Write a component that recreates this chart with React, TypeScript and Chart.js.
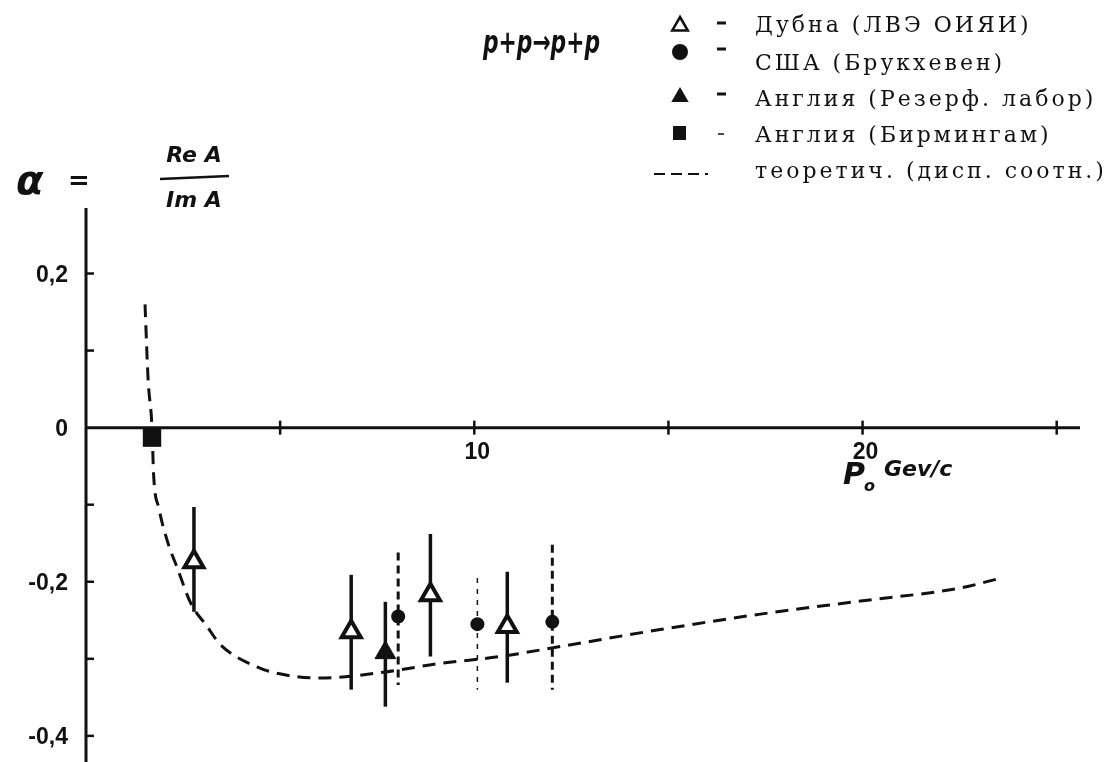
import { useEffect, useRef } from "react";
import { Chart, registerables } from "chart.js";
import { drawPoint } from "chart.js/helpers";

Chart.register(...registerables);

// Dubna (LHE JINR) — open triangles
const dubnaP = [2.78, 6.83, 8.87, 10.85];
const dubnaAlpha = [-0.174, -0.265, -0.217, -0.258];
const dubnaErrTop = [-0.103, -0.191, -0.138, -0.187];
const dubnaErrBottom = [-0.239, -0.340, -0.297, -0.331];

// USA (Brookhaven) — filled circles
const bnlP = [8.04, 10.08, 12.01];
const bnlAlpha = [-0.245, -0.255, -0.252];
const bnlErrTop = [-0.162, -0.195, -0.152];
const bnlErrBottom = [-0.334, -0.340, -0.340];

// England (Rutherford lab) — filled triangle
const rutherfordP = [7.71];
const rutherfordAlpha = [-0.292];
const rutherfordErrTop = [-0.226];
const rutherfordErrBottom = [-0.362];

// England (Birmingham) — filled square
const birminghamP = [1.70];
const birminghamAlpha = [-0.013];

// Dispersion-relation prediction
const theoryP = [1.52, 1.60, 1.70, 1.74, 1.88, 2.10, 2.35, 2.70, 3.12, 3.45, 4.48, 5.26, 6.03, 7.71, 9.12, 10.67, 12.22, 14.79, 17.37, 19.95, 22.53, 23.5];
const theoryAlpha = [0.160, 0.062, 0.0, -0.060, -0.105, -0.148, -0.182, -0.228, -0.258, -0.281, -0.312, -0.322, -0.325, -0.317, -0.306, -0.297, -0.284, -0.262, -0.242, -0.225, -0.208, -0.196];

// Axis ticks and labels
const xTickValues = [5, 10, 15, 20, 25];
const xLabelValues = [10, 20];
const xLabelTexts = ["10", "20"];
const yTickValues = [0.2, 0.1, -0.1, -0.2, -0.3, -0.4];
const yLabelValues = [0.2, 0, -0.2, -0.4];
const yLabelTexts = ["0,2", "0", "-0,2", "-0,4"];

// Legend entries
const legendTexts = [
  "Дубна (ЛВЭ ОИЯИ)",
  "США (Брукхевен)",
  "Англия (Резерф. лабор)",
  "Англия (Бирмингам)",
  "теоретич. (дисп. соотн.)",
];

const INK = "#111";
const HAND = "bold italic";

const toPoints = (xs: number[], ys: number[]) => xs.map((x, i) => ({ x, y: ys[i] }));

const errorBarsPlugin = {
  id: "errorBars",
  beforeDatasetsDraw(chart: any) {
    const { ctx } = chart;
    const xs = chart.scales.x;
    const ys = chart.scales.y;
    const bar = (p: number, a: number, b: number, width: number, dash: number[]) => {
      ctx.save();
      ctx.strokeStyle = INK;
      ctx.lineWidth = width;
      ctx.setLineDash(dash);
      ctx.beginPath();
      const px = xs.getPixelForValue(p);
      ctx.moveTo(px, ys.getPixelForValue(a));
      ctx.lineTo(px, ys.getPixelForValue(b));
      ctx.stroke();
      ctx.restore();
    };
    dubnaP.forEach((p, i) => bar(p, dubnaErrTop[i], dubnaErrBottom[i], 3.5, []));
    rutherfordP.forEach((p, i) => bar(p, rutherfordErrTop[i], rutherfordErrBottom[i], 3.5, []));
    bnlP.forEach((p, i) =>
      bar(p, bnlErrTop[i], bnlErrBottom[i], i === 1 ? 1.5 : 3, i === 1 ? [5, 6] : [8, 5])
    );
  },
};

const decorPlugin = {
  id: "decor",
  afterDraw(chart: any) {
    const { ctx } = chart;
    const xs = chart.scales.x;
    const ys = chart.scales.y;
    const x0 = xs.getPixelForValue(0);
    const y0 = ys.getPixelForValue(0);
    const area = chart.chartArea;
    ctx.save();
    ctx.strokeStyle = INK;
    ctx.fillStyle = INK;
    ctx.lineCap = "butt";

    // axes
    ctx.lineWidth = 3;
    ctx.beginPath();
    ctx.moveTo(x0, area.top);
    ctx.lineTo(x0, area.bottom + 4);
    ctx.moveTo(x0, y0);
    ctx.lineTo(area.right, y0);
    ctx.stroke();

    ctx.lineWidth = 2.5;
    yTickValues.forEach((v) => {
      const y = ys.getPixelForValue(v);
      ctx.beginPath();
      ctx.moveTo(x0, y);
      ctx.lineTo(x0 + 8, y);
      ctx.stroke();
    });
    xTickValues.forEach((v) => {
      const x = xs.getPixelForValue(v);
      ctx.beginPath();
      ctx.moveTo(x, y0 - 7);
      ctx.lineTo(x, y0 + 7);
      ctx.stroke();
    });

    // tick labels
    ctx.font = "bold 23px 'Liberation Sans'";
    ctx.textBaseline = "middle";
    ctx.textAlign = "right";
    yLabelValues.forEach((v, i) => {
      ctx.fillText(yLabelTexts[i], x0 - 18, ys.getPixelForValue(v) + 2);
    });
    ctx.textAlign = "center";
    xLabelValues.forEach((v, i) => {
      ctx.fillText(xLabelTexts[i], xs.getPixelForValue(v) + 3, y0 + 25);
    });

    // axis titles
    ctx.textAlign = "left";
    ctx.font = `${HAND} 40px 'DejaVu Sans'`;
    ctx.fillText("α", 16, 184);
    ctx.font = "bold 26px 'DejaVu Sans'";
    ctx.fillText("=", 68, 182);
    ctx.font = `${HAND} 22px 'DejaVu Sans'`;
    ctx.textAlign = "center";
    ctx.fillText("Re A", 194, 156);
    ctx.fillText("Im A", 194, 201);
    ctx.lineWidth = 2.5;
    ctx.beginPath();
    ctx.moveTo(160, 179);
    ctx.lineTo(229, 176);
    ctx.stroke();

    ctx.textAlign = "left";
    ctx.font = `${HAND} 30px 'DejaVu Sans'`;
    ctx.fillText("P", 843, 476);
    ctx.font = `${HAND} 16px 'DejaVu Sans'`;
    ctx.fillText("o", 864, 487);
    ctx.font = `${HAND} 22px 'DejaVu Sans'`;
    ctx.fillText("Gev/c", 884, 470);

    // reaction, set in a narrow hand-lettered style
    ctx.save();
    ctx.translate(483, 45);
    ctx.scale(0.68, 1);
    ctx.font = `${HAND} 32px 'DejaVu Sans'`;
    ctx.fillText("p+p→p+p", 0, 0);
    ctx.restore();

    // legend
    const symX = 680;
    const dashX = 714;
    const textX = 755;
    const rows = [26, 52, 97, 133, 172];
    const textRows = [26, 64, 100, 136, 172];
    ctx.fillStyle = "#fff";
    ctx.strokeStyle = INK;
    drawPoint(ctx, { pointStyle: "triangle", radius: 9, borderWidth: 3.5 }, symX, rows[0]);
    ctx.fillStyle = INK;
    ctx.beginPath();
    ctx.arc(symX, rows[1], 8, 0, Math.PI * 2);
    ctx.fill();
    ctx.beginPath();
    const r = 10;
    ctx.moveTo(symX, rows[2] - r);
    ctx.lineTo(symX + r * 0.87, rows[2] + r * 0.5);
    ctx.lineTo(symX - r * 0.87, rows[2] + r * 0.5);
    ctx.closePath();
    ctx.fill();
    ctx.fillRect(symX - 7, rows[3] - 7, 13, 14);

    ctx.lineWidth = 3;
    [0, 1, 2].forEach((i) => {
      ctx.beginPath();
      ctx.moveTo(dashX + 3, rows[i] - 3);
      ctx.lineTo(dashX + 12, rows[i] - 3);
      ctx.stroke();
    });
    ctx.lineWidth = 1.5;
    ctx.beginPath();
    ctx.moveTo(dashX + 4, rows[3] + 1);
    ctx.lineTo(dashX + 10, rows[3] + 1);
    ctx.stroke();
    ctx.lineWidth = 2;
    ctx.setLineDash([11, 6]);
    ctx.beginPath();
    ctx.moveTo(654, rows[4] + 2);
    ctx.lineTo(708, rows[4] + 2);
    ctx.stroke();
    ctx.setLineDash([]);

    ctx.font = "22px 'DejaVu Serif'";
    (ctx as any).letterSpacing = "3px";
    ctx.textAlign = "left";
    ctx.textBaseline = "middle";
    legendTexts.forEach((t, i) => ctx.fillText(t, textX, textRows[i]));
    (ctx as any).letterSpacing = "0px";
    ctx.restore();
  },
};

export default function App() {
  const ref = useRef<HTMLCanvasElement>(null);

  useEffect(() => {
    if (!ref.current) return;
    const chart = new Chart(ref.current, {
      type: "scatter",
      data: {
        datasets: [
          {
            label: "теоретич. (дисп. соотн.)",
            type: "line",
            data: toPoints(theoryP, theoryAlpha),
            borderColor: INK,
            borderWidth: 3,
            borderDash: [13, 8],
            pointRadius: 0,
            fill: false,
            cubicInterpolationMode: "monotone",
          } as any,
          {
            label: "Дубна (ЛВЭ ОИЯИ)",
            data: toPoints(dubnaP, dubnaAlpha),
            pointStyle: "triangle",
            pointRadius: 11,
            pointBorderWidth: 4,
            pointBackgroundColor: "#fff",
            pointBorderColor: INK,
          },
          {
            label: "США (Брукхевен)",
            data: toPoints(bnlP, bnlAlpha),
            pointStyle: "circle",
            pointRadius: 7,
            pointBorderWidth: 0,
            pointBackgroundColor: INK,
            pointBorderColor: INK,
          },
          {
            label: "Англия (Резерф. лабор)",
            data: toPoints(rutherfordP, rutherfordAlpha),
            pointStyle: "triangle",
            pointRadius: 12,
            pointBorderWidth: 1,
            pointBackgroundColor: INK,
            pointBorderColor: INK,
          },
          {
            label: "Англия (Бирмингам)",
            data: toPoints(birminghamP, birminghamAlpha),
            pointStyle: "rect",
            pointRadius: 13,
            pointBorderWidth: 0,
            pointBackgroundColor: INK,
            pointBorderColor: INK,
          },
        ],
      },
      options: {
        responsive: false,
        animation: false,
        events: [],
        layout: { autoPadding: false, padding: { left: 86, right: 40, top: 208, bottom: 3 } },
        plugins: {
          legend: { display: false },
          tooltip: { enabled: false },
        },
        scales: {
          x: { type: "linear", min: 0, max: 25.6, display: false },
          y: { type: "linear", min: -0.43, max: 0.285, display: false },
        },
      },
      plugins: [errorBarsPlugin, decorPlugin],
    });
    return () => chart.destroy();
  }, []);

  return (
    <div style={{ position: "fixed", left: 0, top: 0, width: 1120, height: 762, background: "#fff" }}>
      <canvas ref={ref} width={1120} height={762} style={{ width: 1120, height: 762, display: "block" }} />
    </div>
  );
}
